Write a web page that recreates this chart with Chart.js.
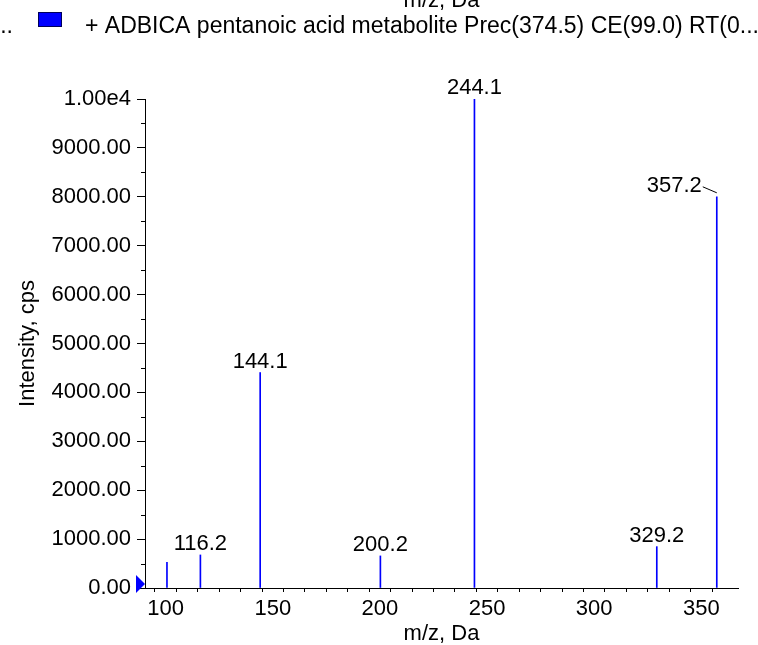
<!DOCTYPE html>
<html>
<head>
<meta charset="utf-8">
<script src="https://cdn.jsdelivr.net/npm/chart.js@4.4.1/dist/chart.umd.min.js"></script>
<style>
    html, body { margin: 0; padding: 0; background: #fff; overflow: hidden; }
</style>
</head>
<body>
<canvas id="espectro" width="758" height="645"></canvas>
<script>
// Picos do espectro (m/z e intensidade)
const massas = [100.6, 116.2, 144.1, 200.2, 244.1, 329.2, 357.2];
const intensidades = [527, 676, 4406, 656, 10000, 846, 8000];
const rotulos = ['', '116.2', '144.1', '200.2', '244.1', '329.2', '357.2'];

const legendaTexto = '+ ADBICA pentanoic acid metabolite Prec(374.5) CE(99.0) RT(0...';
const tituloX = 'm/z, Da';
const tituloY = 'Intensity, cps';

const xMin = 90.35;
const xMax = 367.1;
const yMax = 10000;

const AZUL = 'rgb(0, 0, 255)';
const FONTE = "'Liberation Sans', Arial, sans-serif";

Chart.defaults.font.family = FONTE;
Chart.defaults.font.size = 22;
Chart.defaults.color = '#000';

const multiplo = (v, m) => Math.abs(v / m - Math.round(v / m)) < 1e-6;
const corTick = m => c => (c.tick && multiplo(c.tick.value, m)) ? '#000' : 'rgba(0,0,0,0)';

// Rótulos dos picos, legenda e marcações extras
const extrasPlugin = {
    id: 'extras',
    afterDatasetsDraw(chart) {
        const ctx = chart.ctx;
        const x = chart.scales.x;
        const y = chart.scales.y;
        const area = chart.chartArea;

        ctx.save();
        ctx.font = '22px ' + FONTE;
        ctx.fillStyle = '#000';
        ctx.textBaseline = 'alphabetic';

        massas.forEach((m, i) => {
            if (!rotulos[i]) return;
            const px = x.getPixelForValue(m);
            const py = y.getPixelForValue(intensidades[i]);
            const w = ctx.measureText(rotulos[i]).width;
            const base = py - 5;
            if (px + w / 2 > area.right) {
                // rótulo deslocado com linha de chamada
                const dir = px - 15;
                ctx.textAlign = 'right';
                ctx.fillText(rotulos[i], dir, base);
                ctx.strokeStyle = '#000';
                ctx.lineWidth = 1;
                ctx.beginPath();
                ctx.moveTo(dir + 1, base - 5);
                ctx.lineTo(px, base + 1);
                ctx.stroke();
            } else {
                ctx.textAlign = 'center';
                ctx.fillText(rotulos[i], px, base);
            }
        });

        // ticks menores do eixo y
        ctx.strokeStyle = '#000';
        ctx.lineWidth = 1;
        y.ticks.forEach(t => {
            if (multiplo(t.value, 1000)) return;
            const py = Math.round(y.getPixelForValue(t.value)) + 0.5;
            ctx.beginPath();
            ctx.moveTo(area.left - 4, py);
            ctx.lineTo(area.left, py);
            ctx.stroke();
        });

        // marcador triangular no zero
        const y0 = y.getPixelForValue(0);
        ctx.fillStyle = AZUL;
        ctx.beginPath();
        ctx.moveTo(area.left - 9, y0 - 13);
        ctx.lineTo(area.left - 9, y0 + 5);
        ctx.lineTo(area.left, y0 - 4);
        ctx.closePath();
        ctx.fill();

        // título cortado do painel anterior
        ctx.fillStyle = '#000';
        ctx.textAlign = 'center';
        ctx.fillText(tituloX, (area.left + area.right) / 2, 7);

        // legenda
        ctx.font = '23px ' + FONTE;
        ctx.textAlign = 'right';
        ctx.fillText('...', 13, 33);
        ctx.fillStyle = AZUL;
        ctx.fillRect(38.5, 12.5, 23, 14);
        ctx.strokeStyle = '#00005a';
        ctx.strokeRect(38.5, 12.5, 23, 14);
        ctx.fillStyle = '#000';
        ctx.textAlign = 'left';
        ctx.fillText(legendaTexto, 85, 33);

        ctx.restore();
    }
};

new Chart(document.getElementById('espectro'), {
    type: 'bar',
    data: {
        datasets: [{
            data: massas.map((m, i) => ({ x: m, y: intensidades[i] })),
            backgroundColor: AZUL,
            borderWidth: 0,
            barThickness: 1
        }]
    },
    options: {
        responsive: false,
        animation: false,
        layout: { padding: { top: 99, right: 20, left: 0, bottom: 0 } },
        plugins: {
            legend: { display: false },
            tooltip: { enabled: false }
        },
        scales: {
            x: {
                type: 'linear',
                min: xMin,
                max: xMax,
                offset: false,
                afterFit: s => { s.height = 57; },
                border: { color: '#000', width: 1 },
                grid: {
                    drawOnChartArea: false,
                    tickLength: 4,
                    tickColor: corTick(10)
                },
                ticks: {
                    stepSize: 10,
                    includeBounds: false,
                    autoSkip: false,
                    maxRotation: 0,
                    padding: 4,
                    callback: v => multiplo(v, 50) ? String(Math.round(v)) : ''
                },
                title: {
                    display: true,
                    text: tituloX,
                    font: { size: 22, lineHeight: 1 },
                    padding: { top: 0, bottom: 0 }
                }
            },
            y: {
                min: 0,
                max: yMax,
                afterFit: s => { s.width = 145; },
                border: { color: '#000', width: 1 },
                grid: {
                    drawOnChartArea: false,
                    tickLength: 8,
                    tickColor: corTick(1000)
                },
                ticks: {
                    stepSize: 500,
                    autoSkip: false,
                    padding: 6,
                    callback: v => {
                        if (!multiplo(v, 1000)) return '';
                        return v >= 10000 ? (v / 10000).toFixed(2) + 'e4' : v.toFixed(2);
                    }
                },
                title: {
                    display: true,
                    text: tituloY,
                    padding: { top: 15, bottom: 0 }
                }
            }
        }
    },
    plugins: [extrasPlugin]
});
</script>
</body>
</html>
